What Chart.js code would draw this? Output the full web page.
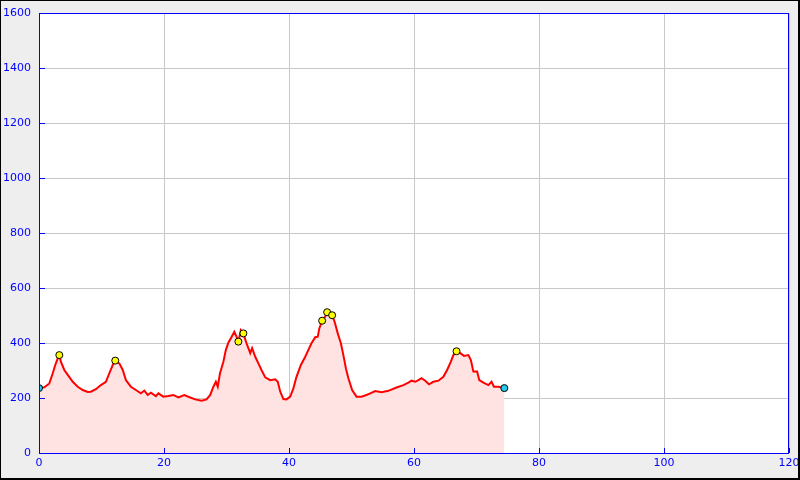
<!DOCTYPE html>
<html>
<head>
<meta charset="utf-8">
<script src="https://cdn.jsdelivr.net/npm/chart.js@4/dist/chart.umd.min.js"></script>
<style>
  html, body { margin: 0; padding: 0; background: #eeeeee; }
  #wrap { width: 800px; height: 480px; }
</style>
</head>
<body>
<div id="wrap"><canvas id="chart" width="800" height="480"></canvas></div>
<script>
// Elevation profile: distance (km) and elevation (m)
const distance = [0, 0.85, 1.65, 2.2, 2.6, 3.0, 3.25, 3.5, 4.05, 4.6, 5.4, 6.2, 7.0, 7.8, 8.3, 9.1, 9.9, 10.7,
  11.25, 11.8, 12.2, 12.85, 13.4, 13.9, 14.7, 15.5, 16.3, 16.85, 17.4, 17.9, 18.7, 19.1, 19.9, 20.7, 21.5,
  22.3, 23.25, 24.2, 25.0, 26.0, 26.8, 27.4, 27.9, 28.3, 28.6, 28.96, 29.5, 29.9, 30.3, 30.7, 31.25, 31.6,
  31.9, 32.3, 32.7, 33.2, 33.8, 34.1, 34.6, 35.1, 35.6, 36.2, 37.0, 37.8, 38.2, 38.6, 39.1, 39.6, 40.2,
  40.7, 41.2, 41.9, 42.6, 43.1, 43.6, 44.2, 44.6, 44.85, 45.3, 45.8, 46.1, 46.9, 47.3, 47.8, 48.3, 48.7,
  49.1, 49.5, 50.1, 50.8, 51.6, 52.4, 53.0, 53.8, 54.8, 55.9, 57.2, 58.3, 59.1, 59.6, 60.2, 60.7, 61.2,
  61.8, 62.4, 63.1, 63.9, 64.7, 65.3, 65.9, 66.3, 66.8, 67.4, 68.0, 68.7, 69.1, 69.5, 70.1, 70.45, 71.1,
  71.9, 72.4, 72.8, 73.5, 74.45];
const elevation = [236, 239, 253, 290, 320, 344, 356, 332, 302, 284, 259, 241, 229, 222, 223, 232, 247, 259,
  290, 320, 336, 326, 302, 265, 241, 229, 217, 227, 211, 219, 207, 217, 205, 207, 211,
  202, 211, 202, 195, 190, 195, 211, 241, 259, 241, 290, 332, 375, 401, 417, 441, 423,
  405, 447, 435, 399, 363, 381, 350, 326, 302, 275, 265, 268, 259, 223, 196, 195, 205,
  235, 277, 320, 350, 375, 399, 421, 423, 453, 481, 496, 512, 501, 477, 435, 399, 356,
  308, 272, 229, 205, 205, 211, 217, 225, 221, 226, 238, 247, 256, 263, 259, 265, 272,
  263, 250, 259, 263, 277, 302, 332, 356, 370, 363, 353, 356, 338, 296, 296, 265, 256,
  247, 259, 241, 241, 236];

// Summit markers
const peakDistance = [3.25, 12.2, 31.9, 32.7, 45.3, 46.1, 46.9, 66.8];
const peakElevation = [356, 336, 405, 435, 481, 512, 501, 370];

// Start / finish markers
const endDistance = [0, 74.45];
const endElevation = [236, 236];

const xTicks = [0, 20, 40, 60, 80, 100, 120];
const yTicks = [0, 200, 400, 600, 800, 1000, 1200, 1400, 1600];

const toPoints = (xs, ys) => xs.map((x, i) => ({x: x, y: ys[i]}));

// White plot area, blue frame, inward ticks, outer black frame
const framePlugin = {
  id: 'frame',
  beforeDraw(chart) {
    const {ctx, chartArea: a} = chart;
    ctx.save();
    ctx.fillStyle = '#ffffff';
    ctx.fillRect(a.left, a.top, a.right - a.left, a.bottom - a.top);
    ctx.restore();
  },
  afterDraw(chart) {
    const {ctx, chartArea: a, scales} = chart;
    ctx.save();
    ctx.strokeStyle = '#0000ff';
    ctx.lineWidth = 1;
    ctx.strokeRect(a.left + 0.5, a.top + 0.5, a.right - a.left - 1, a.bottom - a.top);
    ctx.beginPath();
    yTicks.forEach(v => {
      const y = Math.round(scales.y.getPixelForValue(v)) + 0.5;
      ctx.moveTo(a.left, y);
      ctx.lineTo(a.left + 6, y);
    });
    xTicks.forEach(v => {
      const x = Math.round(scales.x.getPixelForValue(v)) + 0.5;
      ctx.moveTo(x, a.bottom);
      ctx.lineTo(x, a.bottom - 5);
    });
    ctx.stroke();
    // outer frame
    ctx.fillStyle = '#000000';
    ctx.fillRect(0, 0, 800, 1);
    ctx.fillRect(0, 0, 1, 480);
    ctx.fillRect(798, 0, 2, 480);
    ctx.fillRect(0, 478, 800, 2);
    ctx.restore();
  }
};

const tickFont = {family: 'DejaVu Sans', size: 11};

new Chart(document.getElementById('chart'), {
  type: 'line',
  data: {
    datasets: [
      {
        type: 'scatter',
        data: toPoints(endDistance, endElevation),
        pointRadius: 3.5,
        pointBorderWidth: 1,
        pointBackgroundColor: '#22ccee',
        pointBorderColor: '#000000',
        order: 0
      },
      {
        type: 'scatter',
        data: toPoints(peakDistance, peakElevation),
        pointRadius: 3.5,
        pointBorderWidth: 1,
        pointBackgroundColor: '#ffff00',
        pointBorderColor: '#000000',
        order: 0
      },
      {
        data: toPoints(distance, elevation),
        borderColor: '#ff0000',
        borderWidth: 2,
        backgroundColor: '#ffe2e2',
        fill: 'origin',
        pointRadius: 0,
        tension: 0,
        order: 1
      }
    ]
  },
  options: {
    responsive: false,
    animation: false,
    devicePixelRatio: 1,
    layout: {padding: {top: 13, right: 11, left: 0, bottom: 0}},
    plugins: {legend: {display: false}, tooltip: {enabled: false}},
    scales: {
      x: {
        type: 'linear',
        min: 0,
        max: 120,
        afterFit: s => { s.height = 27; s.paddingLeft = 0; s.paddingRight = 0; },
        afterBuildTicks: s => { s.ticks = xTicks.map(v => ({value: v})); },
        grid: {color: '#c8c8c8', drawTicks: false},
        border: {display: false},
        ticks: {color: '#0000ff', font: tickFont, padding: 4, maxRotation: 0, callback: v => String(v)}
      },
      y: {
        min: 0,
        max: 1600,
        afterFit: s => { s.width = 39; s.paddingTop = 0; s.paddingBottom = 0; },
        afterBuildTicks: s => { s.ticks = yTicks.map(v => ({value: v})); },
        grid: {color: '#c8c8c8', drawTicks: false},
        border: {display: false},
        ticks: {color: '#0000ff', font: tickFont, padding: 8, callback: v => String(v)}
      }
    }
  },
  plugins: [framePlugin]
});
</script>
</body>
</html>
